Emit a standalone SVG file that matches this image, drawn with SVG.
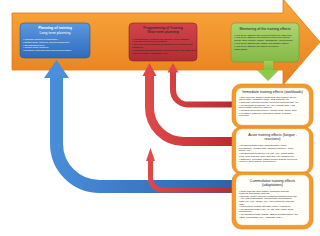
<svg xmlns="http://www.w3.org/2000/svg" width="320" height="236" viewBox="0 0 320 236">
<defs>
<linearGradient id="gOr" x1="0" y1="0" x2="0" y2="1"><stop offset="0" stop-color="#f8a83c"/><stop offset="1" stop-color="#e87f1d"/></linearGradient>
<linearGradient id="gBlueBox" x1="0" y1="0" x2="0" y2="1"><stop offset="0" stop-color="#5b98e0"/><stop offset="1" stop-color="#2f6bbb"/></linearGradient>
<linearGradient id="gRedBox" x1="0" y1="0" x2="0" y2="1"><stop offset="0" stop-color="#d2454a"/><stop offset="1" stop-color="#b02d34"/></linearGradient>
<linearGradient id="gGreenBox" x1="0" y1="0" x2="0" y2="1"><stop offset="0" stop-color="#add672"/><stop offset="1" stop-color="#86b845"/></linearGradient>
<linearGradient id="gBlue" gradientUnits="userSpaceOnUse" x1="44" y1="0" x2="232" y2="0"><stop offset="0" stop-color="#4a8fdb"/><stop offset="1" stop-color="#2f62ad"/></linearGradient>
<linearGradient id="gRed" gradientUnits="userSpaceOnUse" x1="142" y1="0" x2="232" y2="0"><stop offset="0" stop-color="#e04b4b"/><stop offset="1" stop-color="#b92c33"/></linearGradient>
<linearGradient id="gGreen" x1="0" y1="0" x2="0" y2="1"><stop offset="0" stop-color="#9fd15a"/><stop offset="1" stop-color="#7fbf3a"/></linearGradient>
</defs>
<style>
text{font-family:"Liberation Sans",Arial,sans-serif;}
.t{font-size:3.6px;text-anchor:middle;}
.b{font-size:2.3px;}
.w{fill:#ffffff;}
.k{fill:#1a1a1a;}
.frame{fill:#f39a2b;stroke:#e3841f;stroke-width:0.6;}
.inner{fill:#fffef9;stroke:#f0c48c;stroke-width:0.4;}
.blue{fill:none;stroke:url(#gBlue);stroke-width:13;}
.red{fill:none;stroke:url(#gRed);}
</style>
<rect width="320" height="236" fill="#ffffff"/>
<g id="main-arrow">
<path d="M12,13 H283 V-1 L320,42 L283,85 V70 H12 Z" fill="url(#gOr)" stroke="#de7a1c" stroke-width="0.8"/>
</g>
<g id="planning">
<rect x="20" y="23" width="70" height="35" rx="4" fill="url(#gBlueBox)" stroke="#2a5a9a" stroke-width="0.6"/>
<text class="t w" x="55" y="29" font-weight="bold">Planning of training</text>
<text class="t w" x="55" y="33.5">Long term planning</text>
<text class="b w" x="23" y="40">• Planning changes (periodization)</text>
<text class="b w" x="23" y="42.8">• Setting goals, planning, unifying parameters</text>
<text class="b w" x="23" y="45.6">• Strength/Endurance</text>
<text class="b w" x="23" y="48.4">• Making model sessions</text>
<text class="b w" x="23" y="51.2">• Definition of training and load planning testing</text>
</g>
<g id="programming">
<rect x="129" y="23" width="68" height="38" rx="4" fill="url(#gRedBox)" stroke="#8c2027" stroke-width="0.6"/>
<text class="t k" x="163" y="29">Programming of Training</text>
<text class="t k" x="163" y="33">Short term planning</text>
<text class="b k" x="132" y="39.5">• Programming of contents and structure of the sessions</text>
<text class="b k" x="132" y="42.3">• Planning of load and its changes</text>
<text class="b k" x="132" y="45.1">• Tolerance and adaptations at individual level planning and</text>
<text class="b k" x="132" y="47.9">monitoring</text>
<text class="b k" x="132" y="50.7">• Monitoring training sessions (internal/external), tolerance and</text>
<text class="b k" x="132" y="53.5">changes (fatigue, adaptations, etc.)</text>
</g>
<g id="monitoring">
<rect x="231" y="23" width="68" height="39" rx="4" fill="url(#gGreenBox)" stroke="#6f9a36" stroke-width="0.6"/>
<text class="t k" x="265" y="30">Monitoring of the training effects</text>
<text class="b k" x="234" y="35.5">• How do we assess if the long term goals are achieved?</text>
<text class="b k" x="234" y="38.3">• How do we assess if the training is achieving planned</text>
<text class="b k" x="234" y="41.1">effects (work capacity, fatigue, adaptations, (un)success)?</text>
<text class="b k" x="234" y="43.9">• How do we assess load, fatigue and adaptive state?</text>
<text class="b k" x="234" y="46.7">• How do we assess if the athlete is properly</text>
<text class="b k" x="234" y="49.5">progressing?</text>
</g>
<g id="connectors">
<path class="blue" d="M56.5,76 V143.5 A43,43 0 0 0 99.5,186.5 H233"/>
<polygon points="44,78 56.5,60 69,78" fill="#4a8fdb"/>
<path class="red" stroke-width="9" d="M149.5,74 V107.5 A34,34 0 0 0 183.5,141.5 H233"/>
<polygon points="142.5,76 149.5,63 156.5,76" fill="#de4848"/>
<path class="red" stroke-width="6" d="M173,71 V90 A14.5,14.5 0 0 0 187.5,104.5 H233"/>
<polygon points="167.5,72.5 173,63 178.5,72.5" fill="#de4848"/>
<path class="red" stroke-width="5" d="M150.5,159 V178 A12,12 0 0 0 162.5,190 H233"/>
<polygon points="146,161 150.5,148 155,161" fill="#e04b4b"/>
<rect x="264" y="61" width="9" height="10" fill="url(#gGreen)"/>
<polygon points="257,70 279,70 268,81" fill="#8fc94a"/>
</g>
<g id="immediate">
<rect class="frame" x="232" y="84" width="81" height="44" rx="9"/>
<rect class="inner" x="236" y="88" width="73" height="37" rx="6"/>
<text class="t k" x="272.5" y="92.5" font-size="3.1px">Immediate training effects (workloads)</text>
<text class="b k" x="239" y="97.5">• Time analysis: session rating RPE, time-motion, speed,</text>
<text class="b k" x="239" y="100.2">acceleration, metabolic power, GPS systems, etc.</text>
<text class="b k" x="239" y="102.9">• Workload (internal/external) perceived effort/intensity, etc.</text>
<text class="b k" x="239" y="105.6">• Physiological measures: HR, HRV, training load, VO2,</text>
<text class="b k" x="239" y="108.3">blood lactate; efficiency indexes</text>
<text class="b k" x="239" y="111">• Individual wellness/recovery: internal RPE, mood, other</text>
<text class="b k" x="239" y="113.7">• Feedback, subjective analysis of quality, technical</text>
<text class="b k" x="239" y="116.4">execution</text>
</g>
<g id="acute">
<rect class="frame" x="232" y="127" width="81" height="47" rx="9"/>
<rect class="inner" x="236" y="129" width="73" height="43" rx="6"/>
<text class="t k" x="272.5" y="135.5">Acute training effects (fatigue -</text>
<text class="t k" x="272.5" y="139.8">reactions)</text>
<text class="b k" x="239" y="146">• Readiness tests (jump, characteristics, power,</text>
<text class="b k" x="239" y="148.7">performance, reaction time, tapping frequency), sleep</text>
<text class="b k" x="239" y="151.4">quality, etc.)</text>
<text class="b k" x="239" y="154.1">• Physiological measures (HR rest, HRV, blood lactate,</text>
<text class="b k" x="239" y="156.8">CMJ, urine analysis, other analyses, HR variables etc.)</text>
<text class="b k" x="239" y="159.5">• Subjective evaluation (fatigue scales, DOMS, perceived</text>
<text class="b k" x="239" y="162.2">recovery, sleep quality, wellness etc.)</text>
</g>
<g id="cumulative">
<rect class="frame" x="232" y="172" width="81" height="57" rx="9"/>
<rect class="inner" x="236" y="175" width="73" height="50" rx="6"/>
<text class="t k" x="272.5" y="181.5">Cummulative training effects</text>
<text class="t k" x="272.5" y="185.8">(adaptations)</text>
<text class="b k" x="239" y="191.5">• Motor analysis (time-motion, functional analysis,</text>
<text class="b k" x="239" y="194.1">technical and tactical analysis)</text>
<text class="b k" x="239" y="196.7">• Capacity (motor) analysis (metabolic workload analysis</text>
<text class="b k" x="239" y="199.3">- HR-VO2 relationships, running tests, physiological</text>
<text class="b k" x="239" y="201.9">tests (HR, HRV, lactate, etc.), and endurance analysis</text>
<text class="b k" x="239" y="204.5">(RE))</text>
<text class="b k" x="239" y="207.1">• Performance testing (strength, power, endurance)</text>
<text class="b k" x="239" y="209.7">• Physiological tests (HRV, HR, BP, body mass, blood</text>
<text class="b k" x="239" y="212.3">biochemical)</text>
<text class="b k" x="239" y="214.9">• Psychological tests (POMS, RESTQ questionnaires, etc.)</text>
<text class="b k" x="239" y="217.5">• Body composition (DXA, skinfolds, &amp; BIA)</text>
</g>
</svg>
